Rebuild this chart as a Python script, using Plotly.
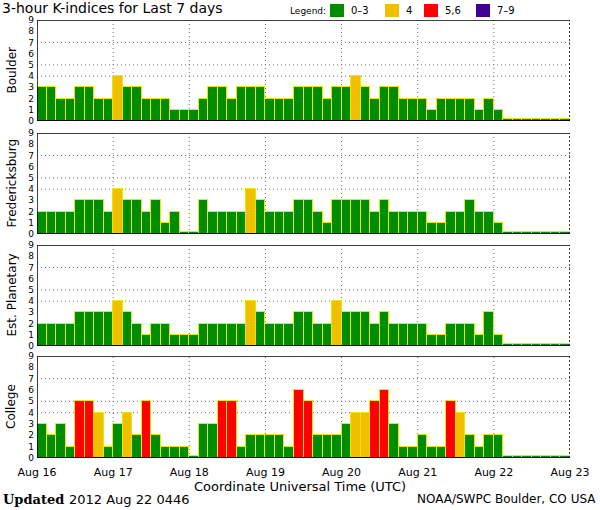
import plotly.graph_objects as go

# ---------------- data ----------------
days = ["Aug 16", "Aug 17", "Aug 18", "Aug 19", "Aug 20", "Aug 21", "Aug 22", "Aug 23"]
stations = ["Boulder", "Fredericksburg", "Est. Planetary", "College"]

boulder = [3, 3, 2, 2, 3, 3, 2, 2,
           4, 3, 3, 2, 2, 2, 1, 1,
           1, 2, 3, 3, 2, 3, 3, 3,
           2, 2, 2, 3, 3, 3, 2, 3,
           3, 4, 3, 2, 3, 3, 2, 2,
           2, 1, 2, 2, 2, 2, 1, 2,
           1, 0, 0, 0, 0, 0, 0, 0]
fredericksburg = [2, 2, 2, 2, 3, 3, 3, 2,
                  4, 3, 3, 2, 3, 1, 2, 0,
                  0, 3, 2, 2, 2, 2, 4, 3,
                  2, 2, 2, 3, 3, 2, 1, 3,
                  3, 3, 3, 2, 3, 2, 2, 2,
                  2, 1, 1, 2, 2, 3, 2, 2,
                  1, 0, 0, 0, 0, 0, 0, 0]
planetary = [2, 2, 2, 2, 3, 3, 3, 3,
             4, 3, 2, 1, 2, 2, 1, 1,
             1, 2, 2, 2, 2, 2, 4, 3,
             2, 2, 2, 3, 3, 2, 2, 4,
             3, 3, 3, 2, 3, 2, 2, 2,
             2, 1, 1, 2, 2, 2, 1, 3,
             1, 0, 0, 0, 0, 0, 0, 0]
college = [3, 2, 3, 1, 5, 5, 4, 1,
           3, 4, 2, 5, 2, 1, 1, 1,
           0, 3, 3, 5, 5, 1, 2, 2,
           2, 2, 1, 6, 5, 2, 2, 2,
           3, 4, 4, 5, 6, 3, 1, 1,
           2, 1, 1, 5, 4, 2, 1, 2,
           2, 0, 0, 0, 0, 0, 0, 0]
series = [boulder, fredericksburg, planetary, college]

legend_labels = ["0\u20133", "4", "5,6", "7\u20139"]
legend_colors = ["#008c00", "#f0c000", "#ff0000", "#400090"]

# ---------------- geometry helpers ----------------
W, H = 600, 510
L, R, T, B = 37, 30, 20, 52
PW, PH = W - L - R, H - T - B


def px(x):
    return (x - L) / PW


def py(y):
    return (H - B - y) / PH


panel_pix = [(20, 121), (133, 234), (245, 346), (356, 458)]


def kcolor(v):
    if v <= 3:
        return legend_colors[0]
    if v == 4:
        return legend_colors[1]
    if v <= 6:
        return legend_colors[2]
    return legend_colors[3]


fig = go.Figure()
shapes = []
annotations = []
DOT = "1px,3px"

for i, (name, vals) in enumerate(zip(stations, series)):
    n = len(vals)
    xs = [(k + 0.5) / 8 for k in range(n)]
    ys = [v if v > 0 else 0.15 for v in vals]
    xa = "x" if i == 0 else f"x{i + 1}"
    ya = "y" if i == 0 else f"y{i + 1}"
    fig.add_trace(go.Bar(
        x=xs, y=ys, width=1 / 8,
        marker=dict(color=[kcolor(v) for v in vals],
                    line=dict(color="#e8e800", width=1)),
        xaxis=xa, yaxis=ya, showlegend=False,
        customdata=vals, hovertemplate="%{customdata}<extra></extra>",
    ))
    top, bot = panel_pix[i]
    dom = [py(bot), py(top)]
    xkey = "xaxis" if i == 0 else f"xaxis{i + 1}"
    ykey = "yaxis" if i == 0 else f"yaxis{i + 1}"
    fig.layout[xkey] = dict(
        domain=[0, 1], range=[0, 7], anchor=ya,
        tickvals=list(range(8)), ticktext=days if i == 3 else [""] * 8,
        showticklabels=(i == 3), ticks="",
        showgrid=False, zeroline=False,
        tickfont=dict(family="DejaVu Sans", size=11, color="black"),
        ticklabelstandoff=6,
    )
    fig.layout[ykey] = dict(
        domain=dom, range=[0, 9], anchor=xa,
        tickvals=list(range(10)), ticks="",
        showgrid=False, zeroline=False,
        tickfont=dict(family="DejaVu Sans", size=9, color="black"),
        ticklabelstandoff=2,
    )
    xr = xa
    yr = ya
    # dotted grid
    for g in [4, 5, 7]:
        shapes.append(dict(type="line", xref=xr, yref=yr, x0=0, x1=7, y0=g, y1=g,
                           line=dict(color="#707070", width=1, dash=DOT), layer="below"))
    for d in range(1, 7):
        shapes.append(dict(type="line", xref=xr, yref=yr, x0=d, x1=d, y0=0, y1=9,
                           line=dict(color="#707070", width=1, dash=DOT), layer="below"))
    # frame
    shapes.append(dict(type="line", xref=xr, yref=yr, x0=0, x1=7, y0=9, y1=9,
                       line=dict(color="black", width=1.5)))
    shapes.append(dict(type="line", xref=xr, yref=yr, x0=0, x1=0, y0=0, y1=9,
                       line=dict(color="black", width=1.5)))
    shapes.append(dict(type="line", xref=xr, yref=yr, x0=0, x1=7, y0=0, y1=0,
                       line=dict(color="black", width=2)))
    shapes.append(dict(type="line", xref=xr, yref=yr, x0=7, x1=7, y0=0, y1=9,
                       line=dict(color="black", width=1.5, dash="2px,2px")))
    # y title
    annotations.append(dict(text=name, xref="paper", yref="paper",
                            x=px(11), y=py((top + bot) / 2), textangle=-90,
                            showarrow=False, xanchor="center", yanchor="middle",
                            font=dict(family="DejaVu Sans", size=12, color="black")))

# title
annotations.append(dict(text="3-hour K-indices for Last 7 days", xref="paper", yref="paper",
                        x=px(0), y=py(8), xanchor="left", yanchor="middle", showarrow=False,
                        font=dict(family="DejaVu Sans", size=14, color="black")))
# legend
annotations.append(dict(text="Legend:", xref="paper", yref="paper",
                        x=px(288), y=py(11), xanchor="left", yanchor="middle", showarrow=False,
                        font=dict(family="DejaVu Sans", size=9, color="black")))
leg_box_x = [330, 385, 424, 476]
for lx, lab, col in zip(leg_box_x, legend_labels, legend_colors):
    shapes.append(dict(type="rect", xref="paper", yref="paper",
                       x0=px(lx), x1=px(lx + 14), y0=py(17), y1=py(4),
                       fillcolor=col, line=dict(width=0)))
    annotations.append(dict(text=lab, xref="paper", yref="paper",
                            x=px(lx + 19), y=py(11), xanchor="left", yanchor="middle",
                            showarrow=False,
                            font=dict(family="DejaVu Sans", size=10, color="black")))
# x title
annotations.append(dict(text="Coordinate Universal Time (UTC)", xref="paper", yref="paper",
                        x=px(300), y=py(486), xanchor="center", yanchor="middle", showarrow=False,
                        font=dict(family="DejaVu Sans", size=13, color="black")))
# footer
annotations.append(dict(text="<b>Updated</b>", xref="paper", yref="paper",
                        x=px(1), y=py(499), xanchor="left", yanchor="middle", showarrow=False,
                        font=dict(family="DejaVu Serif", size=13, color="black")))
annotations.append(dict(text="2012 Aug 22 0446", xref="paper", yref="paper",
                        x=px(67), y=py(499), xanchor="left", yanchor="middle", showarrow=False,
                        font=dict(family="DejaVu Sans", size=13, color="black")))
annotations.append(dict(text="NOAA/SWPC Boulder, CO USA", xref="paper", yref="paper",
                        x=px(598), y=py(499), xanchor="right", yanchor="middle", showarrow=False,
                        font=dict(family="DejaVu Sans", size=12, color="black")))

fig.update_layout(
    width=W, height=H,
    margin=dict(l=L, r=R, t=T, b=B),
    paper_bgcolor="white", plot_bgcolor="white",
    bargap=0, showlegend=False,
    shapes=shapes, annotations=annotations,
)

fig.write_html("out.html",
               config={"displayModeBar": False},
               post_script="document.body.style.margin='0';document.body.style.padding='0';")
